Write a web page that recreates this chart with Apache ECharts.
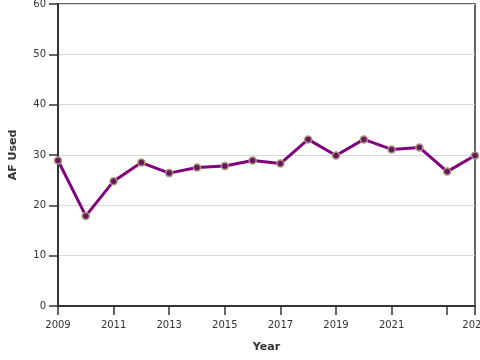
<!DOCTYPE html>
<html>
<head>
<meta charset="utf-8">
<script src="https://cdn.jsdelivr.net/npm/echarts@6/dist/echarts.min.js"></script>
<style>html,body{margin:0;padding:0;background:#fff}#c{width:480px;height:360px}</style>
</head>
<body>
<div id="c"></div>
<script>
const years = ['2009','2010','2011','2012','2013','2014','2015','2016','2017','2018','2019','2020','2021','2022','2023','2024'];
const afUsed = [28.9, 17.9, 24.8, 28.5, 26.4, 27.5, 27.8, 28.9, 28.3, 33.1, 29.9, 33.1, 31.1, 31.5, 26.7, 29.9];
const yTicks = [0, 10, 20, 30, 40, 50, 60];

const chart = echarts.init(document.getElementById('c'), null, {renderer: 'canvas'});
const font = 'DejaVu Sans';
const last = years.length - 1;
chart.setOption({
  animation: false,
  grid: {left: 58, right: 5, top: 4, bottom: 54, show: true, borderColor: '#333', borderWidth: 1.5,
    backgroundColor: 'transparent', containLabel: false, outerBoundsMode: 'none'},
  xAxis: {
    type: 'category',
    data: years,
    boundaryGap: false,
    name: 'Year',
    nameLocation: 'middle',
    nameGap: 36,
    nameTextStyle: {fontFamily: font, fontSize: 11, fontWeight: 'bold', color: '#333'},
    axisLine: {lineStyle: {color: '#333', width: 2}},
    axisTick: {length: 9, lineStyle: {color: '#333', width: 1.5}, interval: (i) => i % 2 === 0 || i === last},
    axisLabel: {fontFamily: font, fontSize: 10, color: '#333', margin: 14, hideOverlap: false,
      interval: (i) => (i % 2 === 0 && i !== last - 1) || i === last},
    splitLine: {show: false}
  },
  yAxis: {
    type: 'value',
    min: yTicks[0], max: yTicks[yTicks.length - 1], interval: 10,
    name: 'AF Used',
    nameLocation: 'middle',
    nameGap: 39,
    nameTextStyle: {fontFamily: font, fontSize: 11, fontWeight: 'bold', color: '#333'},
    axisLine: {show: true, lineStyle: {color: '#333', width: 2}},
    axisTick: {show: true, length: 9, lineStyle: {color: '#333', width: 1.5}},
    axisLabel: {fontFamily: font, fontSize: 10, color: '#333', margin: 12},
    splitLine: {show: true, lineStyle: {color: '#d9d9d9', width: 1}}
  },
  series: [{
    type: 'line',
    data: afUsed,
    lineStyle: {color: '#800080', width: 3},
    symbol: 'circle',
    symbolSize: 7,
    itemStyle: {color: '#6b1560', borderColor: '#a8987a', borderWidth: 1.5},
    z: 3
  }]
});
</script>
</body>
</html>
